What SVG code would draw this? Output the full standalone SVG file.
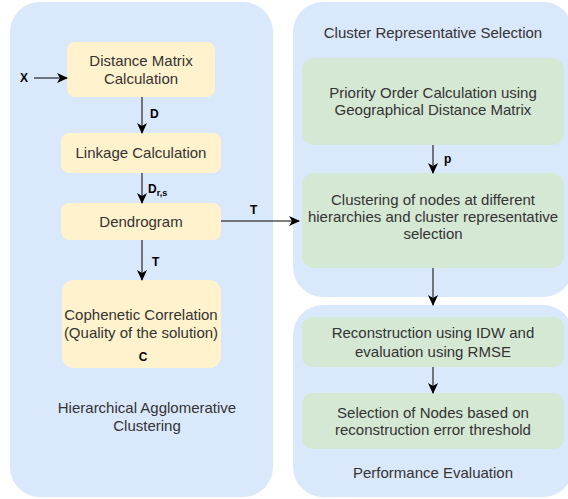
<svg xmlns="http://www.w3.org/2000/svg" width="568" height="499" viewBox="0 0 568 499">
<defs>
<marker id="arr" markerUnits="userSpaceOnUse" markerWidth="12" markerHeight="12" viewBox="0 0 12 12" refX="10" refY="6" orient="auto">
<path d="M0,1 L11,6 L0,11 L3,6 Z" fill="#000"/>
</marker>
<style>
.cont{fill:#dae8fc;stroke:none}
.yel{fill:#fff2cc;stroke:none}
.grn{fill:#d5e8d4;stroke:none}
.t{font-family:"Liberation Sans",Arial,sans-serif;font-size:15px;fill:#333;text-anchor:middle}
.lb{font-family:"Liberation Sans",Arial,sans-serif;font-size:12px;font-weight:bold;fill:#000}
.ln{stroke:#000;stroke-width:1;fill:none;marker-end:url(#arr)}
</style>
</defs>
<rect width="568" height="499" fill="#fff"/>
<g id="hac">
<rect class="cont" x="10" y="2" width="263" height="495" rx="30"/>
<text class="t" x="147" y="413">Hierarchical Agglomerative</text>
<text class="t" x="147" y="431">Clustering</text>
</g>
<g id="crs">
<rect class="cont" x="293" y="2" width="280" height="295" rx="30"/>
<text class="t" x="433" y="38">Cluster Representative Selection</text>
</g>
<g id="pe">
<rect class="cont" x="293" y="305" width="280" height="192" rx="30"/>
<text class="t" x="433" y="478">Performance Evaluation</text>
</g>
<g id="distance">
<rect class="yel" x="67" y="42" width="148" height="55" rx="8"/>
<text class="t" x="141" y="66">Distance Matrix</text>
<text class="t" x="141" y="84">Calculation</text>
</g>
<g id="linkage">
<rect class="yel" x="61" y="133" width="160" height="40" rx="8"/>
<text class="t" x="141" y="158">Linkage Calculation</text>
</g>
<g id="dendrogram">
<rect class="yel" x="61" y="203" width="160" height="37" rx="8"/>
<text class="t" x="141" y="227">Dendrogram</text>
</g>
<g id="cophenetic">
<rect class="yel" x="62" y="280" width="159" height="88" rx="12"/>
<text class="t" x="141" y="320">Cophenetic Correlation</text>
<text class="t" x="141" y="338">(Quality of the solution)</text>
<text class="lb" x="143" y="361" text-anchor="middle">C</text>
</g>
<g id="priority">
<rect class="grn" x="302" y="58" width="262" height="87" rx="12"/>
<text class="t" x="433" y="98">Priority Order Calculation using</text>
<text class="t" x="433" y="115">Geographical Distance Matrix</text>
</g>
<g id="clustering">
<rect class="grn" x="302" y="173" width="262" height="95" rx="12"/>
<text class="t" x="433" y="205">Clustering of nodes at different</text>
<text class="t" x="433" y="222">hierarchies and cluster representative</text>
<text class="t" x="433" y="239">selection</text>
</g>
<g id="reconstruction">
<rect class="grn" x="302" y="317" width="262" height="50" rx="10"/>
<text class="t" x="433" y="338">Reconstruction using IDW and</text>
<text class="t" x="433" y="357">evaluation using RMSE</text>
</g>
<g id="selection">
<rect class="grn" x="302" y="393" width="262" height="56" rx="10"/>
<text class="t" x="433" y="418">Selection of Nodes based on</text>
<text class="t" x="433" y="435">reconstruction error threshold</text>
</g>
<g id="connectors">
<line class="ln" x1="34" y1="78" x2="67" y2="78"/>
<text class="lb" x="20" y="82">X</text>
<line class="ln" x1="142" y1="97" x2="142" y2="133"/>
<text class="lb" x="150" y="118">D</text>
<line class="ln" x1="142" y1="173" x2="142" y2="203"/>
<text class="lb" x="148" y="193">D<tspan font-size="9" dy="3">r,s</tspan></text>
<line class="ln" x1="142" y1="240" x2="142" y2="280"/>
<text class="lb" x="152" y="266">T</text>
<line class="ln" x1="221" y1="221" x2="299" y2="221"/>
<text class="lb" x="250" y="214">T</text>
<line class="ln" x1="433" y1="145" x2="433" y2="173"/>
<text class="lb" x="444" y="163">p</text>
<line class="ln" x1="433" y1="268" x2="433" y2="305"/>
<line class="ln" x1="433" y1="367" x2="433" y2="393"/>
</g>
</svg>
